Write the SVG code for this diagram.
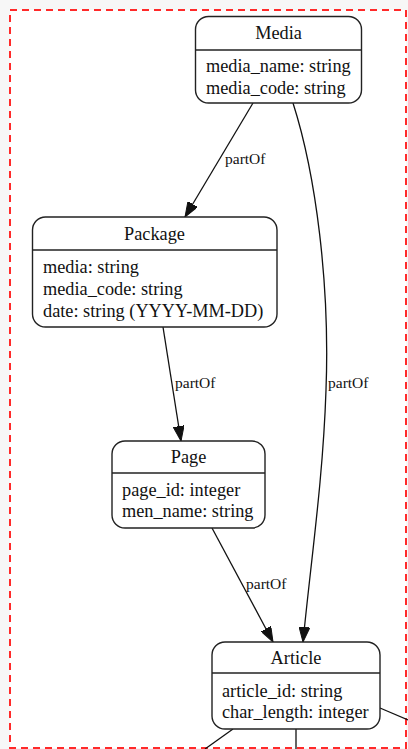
<svg xmlns="http://www.w3.org/2000/svg" width="408" height="749" viewBox="0 0 408 749">
  <style>
    .box { fill: #ffffff; stroke: #222222; stroke-width: 1.4; }
    .div { stroke: #222222; stroke-width: 1.4; }
    .title { font-family: "Liberation Serif", "Times New Roman", serif; font-size: 18.3px; fill: #111111; text-anchor: middle; }
    .attr { font-family: "Liberation Serif", "Times New Roman", serif; font-size: 18.3px; fill: #111111; }
    .edge { fill: none; stroke: #111111; stroke-width: 1.3; }
    .elabel { font-family: "Liberation Serif", "Times New Roman", serif; font-size: 15.5px; fill: #111111; }
  </style>
  <defs>
    <marker id="arrow" viewBox="0 0 15 11" refX="15" refY="5.5" markerWidth="15" markerHeight="11" markerUnits="userSpaceOnUse" orient="auto">
      <path d="M0,0 L15,5.5 L0,11 Z" fill="#111111" stroke="#111111" stroke-width="1"/>
    </marker>
  </defs>

  <!-- page background and dashed cluster frame -->
  <rect x="0" y="0" width="408" height="749" fill="#f7f7f7"/>
  <rect x="10" y="10" width="396" height="738" fill="#ffffff" stroke="#ff2a2a" stroke-width="2" stroke-dasharray="7,5"/>

  <!-- connectors -->
  <g id="edges">
    <path class="edge" d="M253,103 L185,217" marker-end="url(#arrow)"/>
    <text class="elabel" x="225" y="164">partOf</text>

    <path class="edge" d="M163,327 L181,441" marker-end="url(#arrow)"/>
    <text class="elabel" x="175" y="388">partOf</text>

    <path class="edge" d="M212,528 L273,642" marker-end="url(#arrow)"/>
    <text class="elabel" x="246" y="589">partOf</text>

    <path class="edge" d="M293,103 C316,175 330,285 326,390 C323,480 311,560 303,642" marker-end="url(#arrow)"/>
    <text class="elabel" x="328" y="388">partOf</text>

    <!-- outgoing edges leaving the frame -->
    <path class="edge" d="M233,729 L205,749"/>
    <path class="edge" d="M296,729 L296,749"/>
    <path class="edge" d="M380,708 L408,720"/>
  </g>

  <g id="media">
    <rect class="box" x="195.5" y="16.5" width="166" height="86.5" rx="13"/>
    <line class="div" x1="195.5" y1="50" x2="361.5" y2="50"/>
    <text class="title" x="278.5" y="39">Media</text>
    <text class="attr" x="206" y="72">media_name: string</text>
    <text class="attr" x="206" y="94">media_code: string</text>
  </g>

  <g id="package">
    <rect class="box" x="32.5" y="217" width="244.5" height="110" rx="13"/>
    <line class="div" x1="32.5" y1="250" x2="277" y2="250"/>
    <text class="title" x="154.5" y="240">Package</text>
    <text class="attr" x="43" y="273">media: string</text>
    <text class="attr" x="43" y="295">media_code: string</text>
    <text class="attr" x="43" y="317">date: string (YYYY-MM-DD)</text>
  </g>

  <g id="page">
    <rect class="box" x="112" y="441" width="153" height="87" rx="13"/>
    <line class="div" x1="112" y1="473" x2="265" y2="473"/>
    <text class="title" x="188.5" y="463">Page</text>
    <text class="attr" x="122" y="496">page_id: integer</text>
    <text class="attr" x="122" y="517">men_name: string</text>
  </g>

  <g id="article">
    <rect class="box" x="212" y="642" width="168" height="87" rx="13"/>
    <line class="div" x1="212" y1="673" x2="380" y2="673"/>
    <text class="title" x="296" y="664">Article</text>
    <text class="attr" x="222" y="697">article_id: string</text>
    <text class="attr" x="222" y="718">char_length: integer</text>
  </g>
</svg>
